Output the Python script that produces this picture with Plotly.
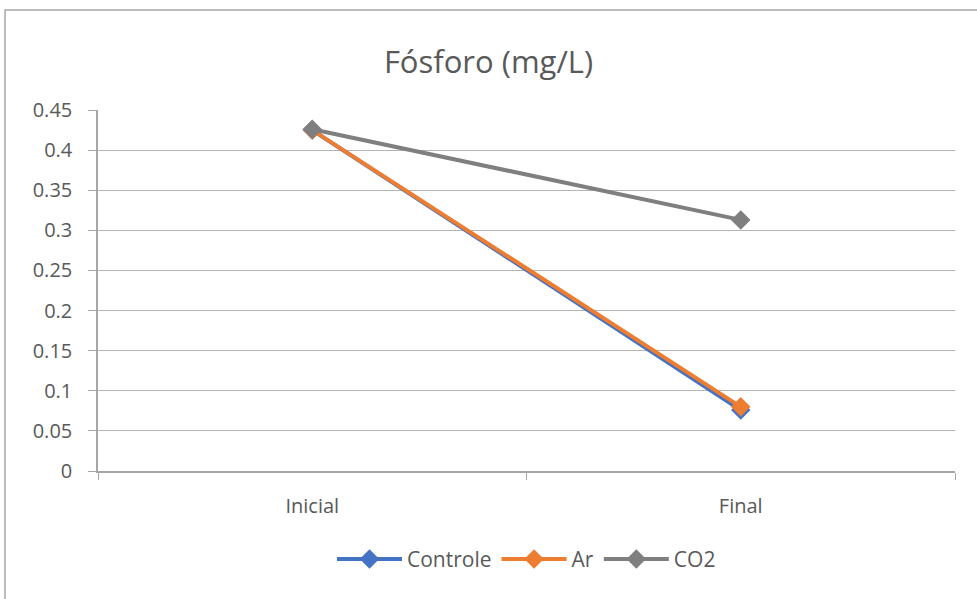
import plotly.graph_objects as go

categories = ["Inicial", "Final"]
controle = [0.425, 0.076]
ar = [0.425, 0.080]
co2 = [0.426, 0.313]
y_ticks = [0, 0.05, 0.1, 0.15, 0.2, 0.25, 0.3, 0.35, 0.4, 0.45]
y_labels = ["0", "0.05", "0.1", "0.15", "0.2", "0.25", "0.3", "0.35", "0.4", "0.45"]

FONT = "Open Sans"
TXT = "#595959"

fig = go.Figure()
for name, vals, col in [("Controle", controle, "#4472C4"),
                        ("Ar", ar, "#ED7D31"),
                        ("CO2", co2, "#7F7F7F")]:
    fig.add_trace(go.Scatter(
        x=categories, y=vals, name=name, mode="lines+markers",
        line=dict(color=col, width=4),
        marker=dict(symbol="diamond", size=15, color=col),
    ))

fig.update_layout(
    width=977, height=599,
    margin=dict(l=98, r=22, t=110, b=128),
    paper_bgcolor="white", plot_bgcolor="white",
    font=dict(family=FONT, color=TXT, size=20),
    title=dict(text="Fósforo (mg/L)", x=0.5, xanchor="center", y=1 - 62/599, yanchor="middle",
               font=dict(family=FONT, size=31, color=TXT)),
    legend=dict(orientation="h", x=0.5, xanchor="center", y=-0.245, yanchor="middle",
                font=dict(family=FONT, size=21, color=TXT), itemwidth=65),
    showlegend=True,
    shapes=[dict(type="rect", xref="paper", yref="paper",
                 x0=-0.1085, x1=1.04, y0=-0.4, y1=1.277,
                 line=dict(color="#A6A6A6", width=1.5), fillcolor="rgba(0,0,0,0)", layer="below")],
)
fig.update_xaxes(
    type="category", tickson="boundaries", ticks="outside", ticklen=7, tickcolor="#A6A6A6",
    showline=True, linecolor="#A6A6A6", linewidth=1.5, showgrid=False,
    ticklabelstandoff=16, tickfont=dict(size=20, color=TXT), range=[-0.5, 1.5],
)
fig.update_yaxes(
    range=[0, 0.45], tickvals=y_ticks, ticktext=y_labels,
    ticks="outside", ticklen=8, tickcolor="#A6A6A6",
    showline=True, linecolor="#A6A6A6", linewidth=1.5,
    showgrid=True, gridcolor="#B4B4B4", gridwidth=1.3, zeroline=False,
    ticklabelstandoff=12, tickfont=dict(size=20, color=TXT),
)

fig.write_html("out.html", config={"displayModeBar": False},
               post_script="document.body.style.margin='0';")
